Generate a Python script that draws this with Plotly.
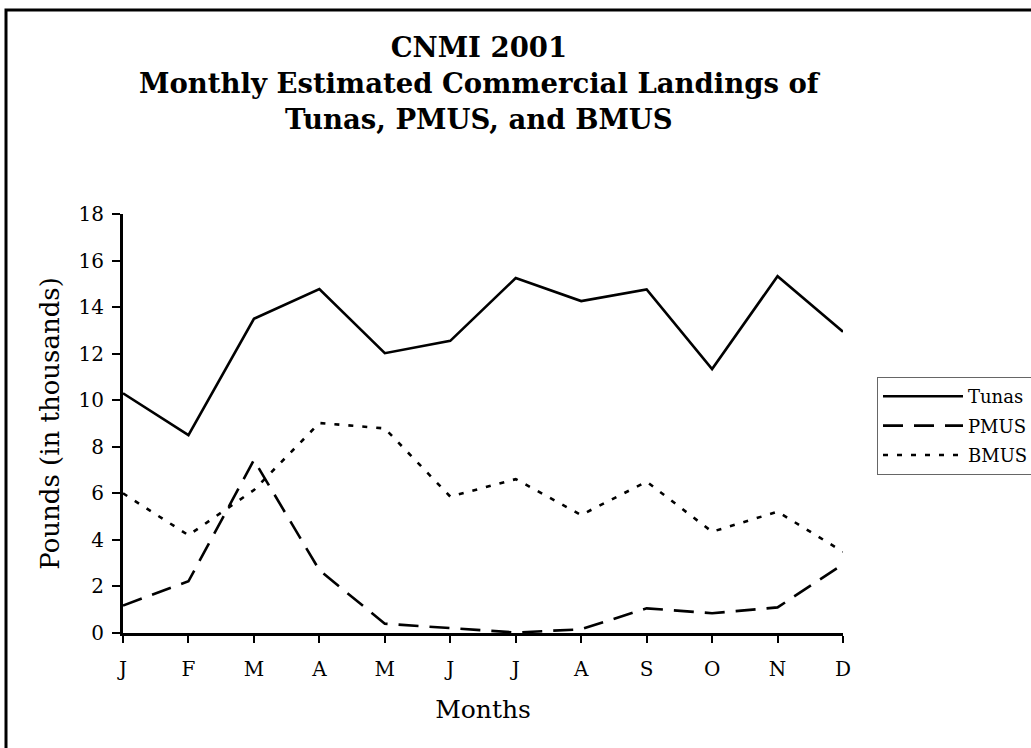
import plotly.graph_objects as go

months_full = ["Jan", "Feb", "Mar", "Apr", "May", "Jun", "Jul", "Aug", "Sep", "Oct", "Nov", "Dec"]
month_labels = ["J", "F", "M", "A", "M", "J", "J", "A", "S", "O", "N", "D"]
tunas = [10.3, 8.5, 13.5, 14.78, 12.02, 12.55, 15.25, 14.26, 14.76, 11.34, 15.33, 12.94]
pmus = [1.18, 2.22, 7.43, 2.7, 0.4, 0.2, 0.02, 0.16, 1.06, 0.85, 1.1, 2.95]
bmus = [6.0, 4.2, 6.14, 9.02, 8.79, 5.86, 6.61, 5.07, 6.5, 4.35, 5.21, 3.49]
y_ticks = [0, 2, 4, 6, 8, 10, 12, 14, 16, 18]

SERIF = "DejaVu Serif"

fig = go.Figure()
fig.add_trace(go.Scatter(x=months_full, y=tunas, name="Tunas", mode="lines", legendgroup="t",
                         line=dict(color="black", width=2.6)))
fig.add_trace(go.Scatter(x=months_full, y=pmus, name="PMUS", mode="lines", legendgroup="p",
                         line=dict(color="black", width=2.6, dash="20px,11px")))
fig.add_trace(go.Scatter(x=months_full, y=bmus, name="BMUS", mode="lines", legendgroup="b",
                         line=dict(color="black", width=2.6, dash="5px,9px")))

cat_common = dict(type="category", categoryorder="array", categoryarray=months_full,
                  range=[0, 11], showgrid=False, zeroline=False)

W, H = 1031, 748
L, R, T, B = 123, 843, 214, 633
PW, PH = R - L, B - T

fig.update_layout(
    width=W, height=H,
    paper_bgcolor="white", plot_bgcolor="white",
    margin=dict(l=L, r=W - R, t=T, b=H - B, pad=0, autoexpand=False),
    font=dict(family=SERIF, color="black"),
    xaxis=dict(**cat_common, tickvals=months_full, ticktext=month_labels,
               ticks="outside", ticklen=7, tickwidth=2, tickcolor="black",
               showline=True, linewidth=3, linecolor="black",
               tickfont=dict(family=SERIF, size=20, color="black"),
               ticklabelstandoff=9, automargin=False,
               title=dict(text="Months", font=dict(family=SERIF, size=25, color="black"), standoff=21)),
    xaxis2=dict(**cat_common, overlaying="x", side="bottom", anchor="y",
                tickvals=months_full, ticktext=[""] * 12, ticks="inside", ticklen=7,
                tickwidth=2, tickcolor="black", showline=False),
    xaxis3=dict(**cat_common, overlaying="x", side="top", anchor="y",
                showticklabels=False, ticks="", showline=True, linewidth=2, linecolor="black"),
    yaxis=dict(range=[0, 18], tickvals=y_ticks, ticks="outside", ticklen=8, tickwidth=2,
               tickcolor="black", showline=True, linewidth=3, linecolor="black",
               showgrid=False, zeroline=False,
               tickfont=dict(family=SERIF, size=20, color="black"),
               ticklabelstandoff=4, automargin=False,
               title=dict(text="Pounds (in thousands)", font=dict(family=SERIF, size=26, color="black"),
                          standoff=12)),
    yaxis2=dict(range=[0, 18], overlaying="y", side="right", anchor="x",
                showticklabels=False, ticks="", showline=True, linewidth=2, linecolor="black",
                showgrid=False, zeroline=False),
    legend=dict(x=(877 - L) / PW, y=(B - 377) / PH, xanchor="left", yanchor="top",
                bgcolor="white", bordercolor="#666666", borderwidth=1,
                font=dict(family=SERIF, size=18, color="black"),
                itemwidth=80, traceorder="grouped", tracegroupgap=3),
    showlegend=True,
    annotations=[dict(
        text="<b>CNMI 2001<br>Monthly Estimated Commercial Landings of<br>Tunas, PMUS, and BMUS</b>",
        xref="paper", yref="paper", x=(480 - L) / PW, y=1.0 + (T - 83) / PH,
        xanchor="center", yanchor="middle", showarrow=False,
        font=dict(family=SERIF, size=27.5, color="black"))],
    shapes=[dict(type="rect", xref="paper", yref="paper",
                 x0=(6 - L) / PW, x1=(1045 - L) / PW,
                 y0=(B - 770) / PH, y1=1.0 + (T - 10) / PH,
                 line=dict(color="black", width=3), fillcolor="rgba(0,0,0,0)", layer="below")],
)

fig.write_html("out.html", config={"displayModeBar": False},
               post_script="document.body.style.margin='0px';")
